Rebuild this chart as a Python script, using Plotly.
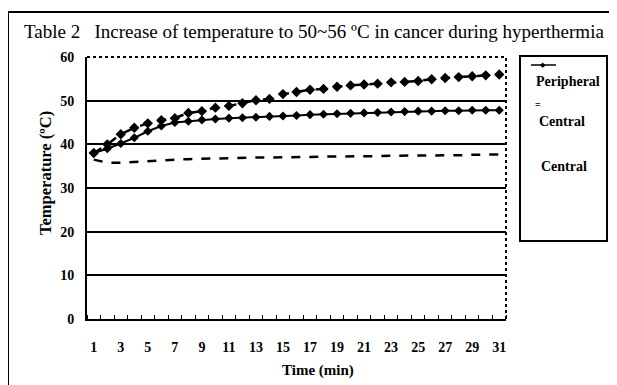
import plotly.graph_objects as go

minutes = list(range(1, 32))
peripheral = [38.0, 39.0, 40.2, 41.5, 43.0, 44.2, 45.0, 45.3, 45.6, 45.8, 46.0, 46.1, 46.2, 46.4, 46.5,
              46.6, 46.8, 46.9, 47.0, 47.1, 47.2, 47.3, 47.4, 47.5, 47.6, 47.6, 47.7, 47.7, 47.8, 47.8, 47.8]
central_top = [38.0, 40.0, 42.3, 43.8, 44.8, 45.5, 46.0, 47.2, 47.6, 48.4, 48.8, 49.4, 50.1, 50.4, 51.5,
               52.0, 52.5, 52.7, 53.2, 53.5, 53.7, 53.9, 54.2, 54.3, 54.5, 54.9, 55.2, 55.4, 55.6, 55.8, 56.0]
central_low = [36.5, 35.8, 35.8, 36.0, 36.2, 36.3, 36.5, 36.6, 36.7, 36.8, 36.8, 36.9, 37.0, 37.0, 37.0,
               37.1, 37.1, 37.2, 37.2, 37.2, 37.3, 37.3, 37.4, 37.4, 37.4, 37.5, 37.5, 37.5, 37.6, 37.6, 37.7]
x_tick_labels = [str(v) for v in range(1, 32, 2)]
y_ticks = [0, 10, 20, 30, 40, 50, 60]

SERIF = "Liberation Serif, Times New Roman, serif"
OFF = 8  # page body margin offset
W, H = 617, 385
L, R, T, B = 87 - OFF, 506 - OFF, 57 - OFF, 319 - OFF

def px(x):
    return (x - OFF - L) / (R - L)

def py(y):
    return (B - (y - OFF)) / (B - T)

fig = go.Figure()
fig.add_trace(go.Scatter(x=minutes, y=central_low, mode="lines",
                         line=dict(color="black", width=2.5, dash="dash"), name="Central"))
fig.add_trace(go.Scatter(x=minutes, y=central_top, mode="lines+markers",
                         line=dict(color="black", width=2.5, dash="dash"),
                         marker=dict(symbol="diamond", size=8, color="black"), name="Central"))
fig.add_trace(go.Scatter(x=minutes, y=peripheral, mode="lines+markers",
                         line=dict(color="black", width=2),
                         marker=dict(symbol="diamond", size=7, color="black"), name="Peripheral"))

fig.update_layout(
    width=W, height=H,
    margin=dict(l=L, r=W - R, t=T, b=H - B),
    paper_bgcolor="white", plot_bgcolor="white",
    showlegend=False,
    font=dict(family=SERIF, color="black"),
    xaxis=dict(range=[0.5, 31.5], tickmode="array", tickvals=list(range(1, 32, 2)),
               ticktext=x_tick_labels, ticks="", showgrid=False, zeroline=False,
               showline=True, linecolor="black", linewidth=2,
               tickfont=dict(family=SERIF, size=14, color="black", weight="bold"),
               ticklabelstandoff=14,
               minor=dict(ticks="inside", tick0=0.5, dtick=1, ticklen=4, tickcolor="black", tickwidth=1)),
    yaxis=dict(range=[0, 60], tickmode="array", tickvals=y_ticks, ticks="",
               showgrid=True, gridcolor="black", gridwidth=2, zeroline=False,
               showline=True, linecolor="black", linewidth=2,
               tickfont=dict(family=SERIF, size=14, color="black", weight="bold"),
               ticklabelstandoff=8),
)

# dotted top / right borders of plot area
fig.add_shape(type="line", xref="paper", yref="paper", x0=0, x1=1, y0=1, y1=1,
              line=dict(color="black", width=2, dash="dot"))
fig.add_shape(type="line", xref="paper", yref="paper", x0=1, x1=1, y0=0, y1=1,
              line=dict(color="black", width=2, dash="dot"))
# outer frame
fig.add_shape(type="rect", xref="paper", yref="paper", x0=px(8), x1=px(640), y0=py(400), y1=py(12),
              line=dict(color="black", width=2))
# legend box
fig.add_shape(type="rect", xref="paper", yref="paper", x0=px(520), x1=px(607), y0=py(241), y1=py(56),
              line=dict(color="black", width=2))
fig.add_shape(type="line", xref="paper", yref="paper", x0=px(531), x1=px(556), y0=py(65), y1=py(65),
              line=dict(color="black", width=1.5))

def ann(x, y, text, size, xanchor="center", angle=0, family=SERIF):
    fig.add_annotation(xref="paper", yref="paper", x=px(x), y=py(y), xanchor=xanchor, yanchor="middle",
                       text=text, showarrow=False, textangle=angle,
                       font=dict(family=family, size=size, color="black"))

ann(543, 65, "◆", 7)
ann(534, 81, "<b>Peripheral</b>", 14, "left")
ann(533, 104, "<b>=</b>", 10, "left")
ann(537, 121, "<b>Central</b>", 14, "left")
ann(539, 166, "<b>Central</b>", 14, "left")

# title
ann(22, 32, "Table 2   Increase of temperature to 50~56 ºC in cancer during hyperthermia", 19, "left")
# axis titles
ann(45, 173, "<b>Temperature (ºC)</b>", 16.5, "center", -90)
ann(318, 370, "<b>Time (min)</b>", 15)

fig.write_html("out.html")
